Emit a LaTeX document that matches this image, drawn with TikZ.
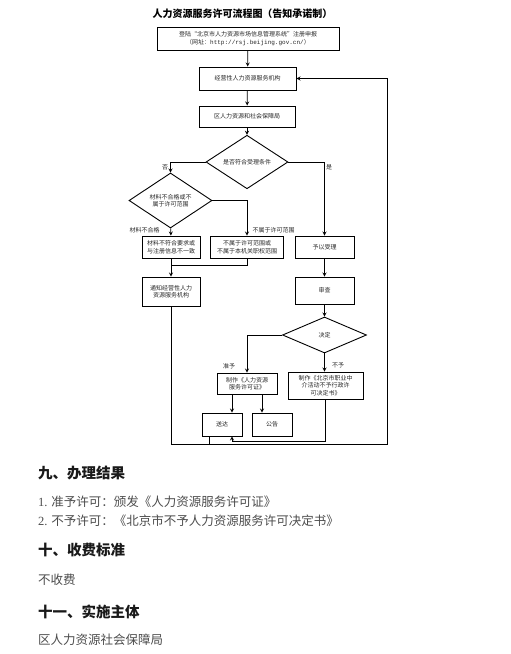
\documentclass[tikz,border=0pt]{standalone}
\usepackage{fontspec}
\setmainfont{Noto Sans CJK SC}
\newfontfamily\urlfont{Liberation Mono}
\newfontfamily\numfont{Liberation Serif}
\usetikzlibrary{shapes.geometric, arrows}
\tikzstyle{arrow} = [thick,->,>=stealth]
\tikzstyle{line} = [thick]
\tikzstyle{process} = [rectangle, draw, line width=0.9pt, inner sep=0pt, align=center, text=black!85, font=\fontsize{6}{7.5}\selectfont]
\tikzstyle{decision} = [diamond, draw, line width=0.9pt, inner sep=0pt, align=center, text=black!85, font=\fontsize{6}{7.5}\selectfont]
\tikzstyle{tag} = [inner sep=0pt, text=black!85, font=\fontsize{6}{7}\selectfont]
\tikzstyle{heading} = [anchor=west, inner sep=0pt, text=black!90, font=\fontsize{14.5}{16}\selectfont\bfseries]
\tikzstyle{body} = [anchor=west, inner sep=0pt, text=black!70, font=\fontsize{12.5}{14}\selectfont]

\begin{document}
\begin{tikzpicture}[x=1pt, y=-1pt]
\useasboundingbox (0,0) rectangle (511,654);

% title
\node[font=\fontsize{10}{12}\selectfont\bfseries] (title) at (242.5,14) {人力资源服务许可流程图（告知承诺制）};

% boxes
\node[process, minimum width=182, minimum height=23] (reg) at (248,38.5)
    {登陆“北京市人力资源市场信息管理系统”注册申报\\（网址：{\urlfont http://rsj.beijing.gov.cn/}）};
\node[process, minimum width=97, minimum height=23] (org) at (247.5,78.5) {经营性人力资源服务机构};
\node[process, minimum width=96, minimum height=21] (bureau) at (247,116.5) {区人力资源和社会保障局};
\node[decision, minimum width=82, minimum height=34] (cond) at (247,162) {是否符合受理条件};
\node[decision, minimum width=83, minimum height=33] (mat) at (170.5,200.5) {材料不合格或不\\属于许可范围};
\node[process, minimum width=58, minimum height=22] (fail) at (171,247) {材料不符合要求或\\与注册信息不一致};
\node[process, minimum width=73, minimum height=22] (scope) at (247,247) {不属于许可范围或\\不属于本机关职权范围};
\node[process, minimum width=59, minimum height=22] (accept) at (324.5,247) {予以受理};
\node[process, minimum width=58, minimum height=29] (notify) at (171,291.5) {通知经营性人力\\资源服务机构};
\node[process, minimum width=59, minimum height=27] (review) at (324.5,290.5) {审查};
\node[decision, minimum width=84, minimum height=36] (decide) at (324.5,335) {决定};
\node[process, minimum width=60, minimum height=21] (cert) at (247,383.5) {制作《人力资源\\服务许可证》};
\node[process, minimum width=75, minimum height=27] (deny) at (325.5,385.5) {制作《北京市职业中\\介活动不予行政许\\可决定书》};
\node[process, minimum width=40, minimum height=23] (deliver) at (222,424.5) {送达};
\node[process, minimum width=40, minimum height=23] (notice) at (272,424.5) {公告};

\coordinate (merge) at (171,265);
\coordinate (back) at (232,441);
\coordinate (corner) at (387,444);

% connectors
\draw [arrow] (reg) -- (org);
\draw [arrow] (org) -- (bureau);
\draw [arrow] (bureau) -- (cond);
\draw [arrow] (cond.west) -| (mat.north);
\draw [arrow] (cond.east) -| (accept.north);
\draw [arrow] (mat) -- (fail);
\draw [arrow] (mat.east) -| (scope.north);
\draw [line] (fail.south) -- (merge);
\draw [line] (scope.south) |- (merge);
\draw [arrow] (merge) -- (notify);
\draw [arrow] (accept) -- (review);
\draw [arrow] (review) -- (decide);
\draw [arrow] (decide.west) -| (cert.north);
\draw [arrow] (decide.south) -- (decide.south |- deny.north);
\draw [arrow] ([xshift=-15pt]cert.south) -- ([xshift=-15pt]cert.south |- deliver.north);
\draw [arrow] ([xshift=15pt]cert.south) -- ([xshift=15pt]cert.south |- notice.north);
\draw [arrow] (deny.south) |- (back) -- (back |- deliver.south);
\draw [line] ([xshift=-13pt]deliver.south) -- ([xshift=-13pt]deliver.south |- corner);
\draw [arrow] (notify.south) |- (corner) |- (org.east);

% labels
\node[tag] (no) at (165,167) {否};
\node[tag] (yes) at (329,167) {是};
\node[tag] (badmat) at (144.5,230) {材料不合格};
\node[tag] (outscope) at (273.5,230) {不属于许可范围};
\node[tag] (grant) at (229,366) {准予};
\node[tag] (refuse) at (338,365) {不予};

% text below
\node[heading] (h1) at (38,473) {九、办理结果};
\node[body] (r1) at (38,502) {{\numfont 1.} 准予许可：颁发《人力资源服务许可证》};
\node[body] (r2) at (38,521) {{\numfont 2.} 不予许可：《北京市不予人力资源服务许可决定书》};
\node[heading] (h2) at (38,550) {十、收费标准};
\node[body] (fee) at (38,580) {不收费};
\node[heading] (h3) at (38,612) {十一、实施主体};
\node[body] (body) at (38,640) {区人力资源社会保障局};

\end{tikzpicture}
\end{document}
